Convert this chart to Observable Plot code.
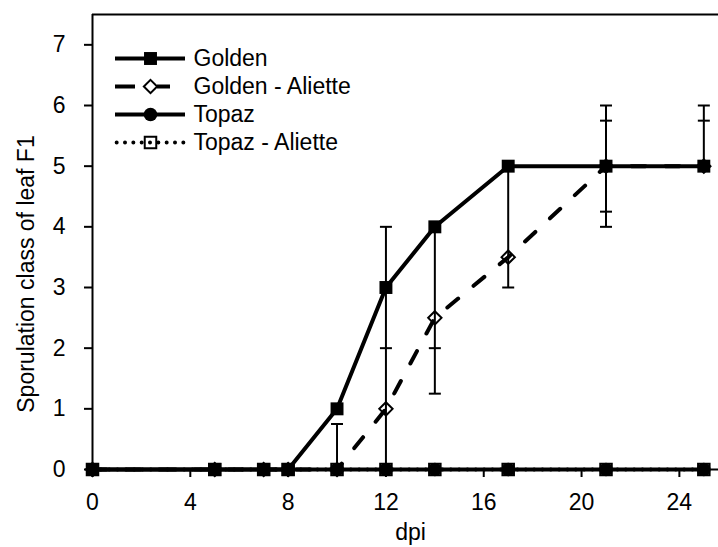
<!DOCTYPE html>
<html>
<head>
<meta charset="utf-8">
<script src="https://cdn.jsdelivr.net/npm/d3@7"></script>
<script src="https://cdn.jsdelivr.net/npm/@observablehq/plot@0.6"></script>
<style>
  html, body { margin: 0; padding: 0; background: #fff; }
  #wrap { position: relative; width: 718px; height: 547px; }
  #legend { position: absolute; left: 0; top: 0; }
</style>
</head>
<body>
<div id="wrap"><div id="chart"></div><div id="legend"></div></div>
<script>
// ---- data ----
const dpi = [0, 5, 7, 8, 10, 12, 14, 17, 21, 25];
const golden = [0, 0, 0, 0, 1, 3, 4, 5, 5, 5];
const goldenAliette = [0, 0, 0, 0, 0, 1, 2.5, 3.5, 5, 5];
const topaz = [0, 0, 0, 0, 0, 0, 0, 0, 0, 0];
const topazAliette = [0, 0, 0, 0, 0, 0, 0, 0, 0, 0];
const seriesNames = ["Golden", "Golden - Aliette", "Topaz", "Topaz - Aliette"];

// error bars (vertical extents) and their caps
const barX = [10, 12, 14, 17, 21, 25];
const barLow = [0, 0, 1.25, 3, 4, 5];
const barHigh = [0.75, 4, 4, 5, 6, 6];
const capX = [10, 12, 12, 14, 14, 17, 21, 21, 21, 21, 25, 25];
const capY = [0.75, 4, 2, 2, 1.25, 3, 6, 5.75, 4.25, 4, 6, 5.75];

const xTicks = [0, 4, 8, 12, 16, 20, 24];
const yTicks = [0, 1, 2, 3, 4, 5, 6, 7];
const xDomain = [0, 25.6];
const yDomain = [0, 7.5];
const xTitle = "dpi";
const yTitle = "Sporulation class of leaf F1";

// ---- build tables ----
const values = [golden, goldenAliette, topaz, topazAliette];
const tables = values.map((v, s) => dpi.map((d, i) => ({dpi: d, value: v[i], series: seriesNames[s]})));
const bars = barX.map((x, i) => ({x, lo: barLow[i], hi: barHigh[i]}));
const caps = capX.map((x, i) => ({x, y: capY[i]}));

const capSymbol = {
  draw(context, size) {
    const r = Math.sqrt(size / Math.PI);
    context.moveTo(-r, 0);
    context.lineTo(r, 0);
  }
};

const styles = [
  {line: {strokeWidth: 4}, dot: {symbol: "square", r: 7.3, fill: "#000", stroke: "none"}},
  {line: {strokeWidth: 4, strokeDasharray: "14,20", strokeLinecap: "round"}, dot: {symbol: "diamond2", r: 6, fill: "none", stroke: "#000", strokeWidth: 2}},
  {line: {strokeWidth: 4}, dot: {symbol: "circle", r: 6.8, fill: "#000", stroke: "none"}},
  {line: {strokeWidth: 4, strokeDasharray: "0,8.333", strokeLinecap: "round"}, dot: {symbol: "square", r: 6.5, fill: "none", stroke: "#000", strokeWidth: 2}}
];

const font = '"Liberation Sans", Arial, sans-serif';

const marks = [
  Plot.ruleX([xDomain[0]], {y1: yDomain[0], y2: yDomain[1], stroke: "#000", strokeWidth: 2}),
  Plot.ruleY([yDomain[1]], {stroke: "#000", strokeWidth: 2}),
  Plot.ruleY([yDomain[0]], {stroke: "#000", strokeWidth: 2}),
  Plot.axisX({ticks: xTicks, tickSize: 8, tickPadding: 16, label: null, strokeWidth: 2, fill: "#000"}),
  Plot.axisY({ticks: yTicks, tickSize: 8, tickPadding: 19, label: null, strokeWidth: 2, fill: "#000"}),
  Plot.ruleX(bars, {x: "x", y1: "lo", y2: "hi", stroke: "#000", strokeWidth: 2}),
  Plot.dot(caps, {x: "x", y: "y", symbol: capSymbol, r: 6, stroke: "#000", strokeWidth: 2, fill: "none"})
];
tables.forEach((t, s) => {
  marks.push(Plot.line(t, {x: "dpi", y: "value", stroke: "#000", strokeLinejoin: "round", ...styles[s].line}));
  marks.push(Plot.dot(t, {x: "dpi", y: "value", ...styles[s].dot}));
});
marks.push(Plot.text([xTitle], {text: d => d, frameAnchor: "bottom", textAnchor: "middle", dx: 5, dy: 70, fill: "#000", fontSize: 23}));
marks.push(Plot.text([yTitle], {text: d => d, frameAnchor: "left", textAnchor: "middle", dx: -66, dy: 32, rotate: -90, fill: "#000", fontSize: 23}));

const chart = Plot.plot({
  width: 718,
  height: 547,
  marginLeft: 92,
  marginRight: 0,
  marginTop: 14,
  marginBottom: 78,
  x: {domain: xDomain},
  y: {domain: yDomain},
  style: {fontFamily: font, fontSize: "23px", color: "#000", background: "#fff", overflow: "visible"},
  marks
});
document.getElementById("chart").appendChild(chart);

// ---- legend (overlaid inside the plot frame) ----
const legendStyles = [
  {line: {strokeWidth: 4}, dot: styles[0].dot},
  {line: {strokeWidth: 4, strokeDasharray: "20,22,13,100"}, dot: {...styles[1].dot, fill: "#fff"}},
  {line: {strokeWidth: 4}, dot: styles[2].dot},
  {line: {strokeWidth: 4, strokeDasharray: "0,8.333", strokeDashoffset: -1.67, strokeLinecap: "round"}, dot: styles[3].dot}
];
const legendMarks = [];
seriesNames.forEach((name, s) => {
  legendMarks.push(Plot.ruleY([name], {y: d => d, x1: 0, x2: 1, stroke: "#000", ...legendStyles[s].line}));
  legendMarks.push(Plot.dot([name], {y: d => d, x: 0.5, ...legendStyles[s].dot}));
});
legendMarks.push(Plot.text(seriesNames, {y: d => d, x: 1, dx: 8, text: d => d, textAnchor: "start", fill: "#000", fontSize: 23}));

const legend = Plot.plot({
  width: 420,
  height: 180,
  margin: 0,
  x: {domain: [0, 1], range: [115, 185], axis: null},
  y: {type: "point", domain: seriesNames, range: [42, 157], axis: null},
  style: {fontFamily: font, fontSize: "23px", color: "#000", background: "transparent", overflow: "visible"},
  marks: legendMarks
});
document.getElementById("legend").appendChild(legend);
</script>
</body>
</html>
